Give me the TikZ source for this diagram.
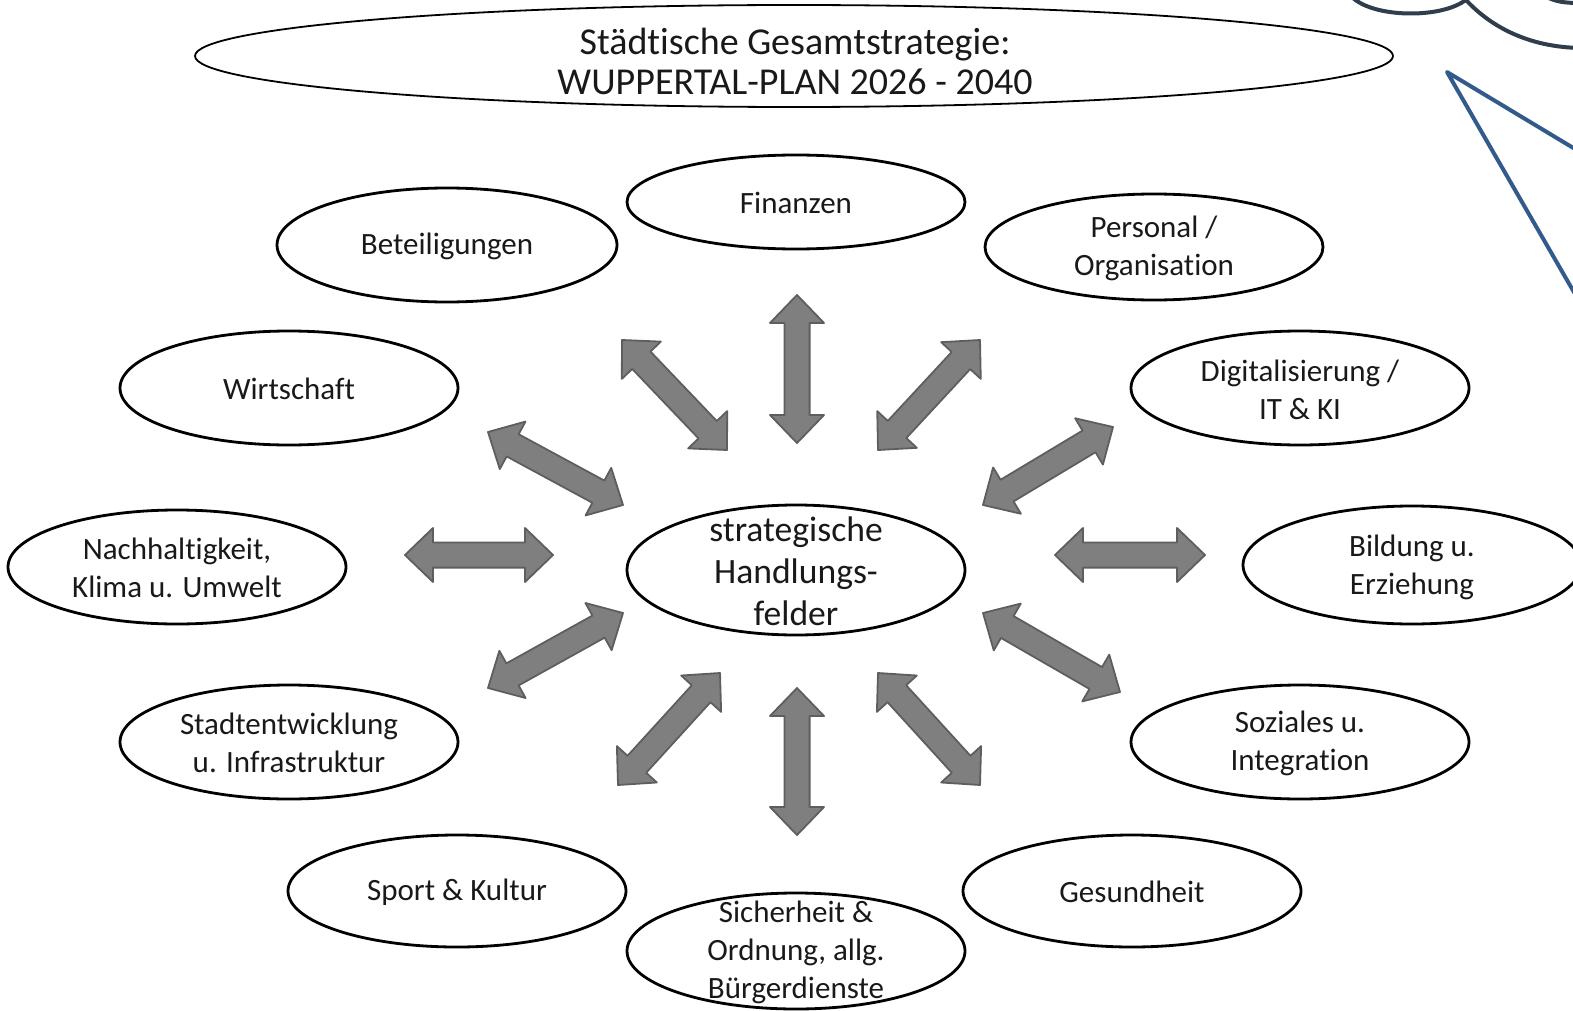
\documentclass[tikz,border=0pt]{standalone}
\usepackage{fontspec}
\setmainfont[Ligatures=NoCommon]{Carlito}
\usetikzlibrary{calc}

\definecolor{arrowgray}{HTML}{7F7F7F}
\definecolor{arrowedge}{HTML}{5E5E5E}
\definecolor{cloudline}{HTML}{2F3D4C}
\definecolor{callblue}{HTML}{325B8C}

\tikzset{
	oval/.style={black, line width=1.4pt},
	field/.style={align=center, text=black!90, font=\fontsize{15.5}{19}\selectfont},
	hub/.style={align=center, text=black!90, font=\fontsize{17.8}{21}\selectfont},
	harrow/.style={fill=arrowgray, draw=arrowedge, line width=0.9pt, line join=round}
}

% double block arrow between two named coordinates
\newcommand{\dblarrow}[2]{%
	\filldraw[harrow] (#1)
		-- ($(#1)!14pt!(#2)!13.5pt!90:(#2)$) -- ($(#1)!14pt!(#2)!6.3pt!90:(#2)$)
		-- ($(#2)!14pt!(#1)!6.3pt!-90:(#1)$) -- ($(#2)!14pt!(#1)!13.5pt!-90:(#1)$)
		-- (#2)
		-- ($(#2)!14pt!(#1)!13.5pt!90:(#1)$) -- ($(#2)!14pt!(#1)!6.3pt!90:(#1)$)
		-- ($(#1)!14pt!(#2)!6.3pt!-90:(#2)$) -- ($(#1)!14pt!(#2)!13.5pt!-90:(#2)$)
		-- cycle;}

\begin{document}
\begin{tikzpicture}[x=0.5pt,y=-0.5pt]
	\useasboundingbox (0,0) rectangle (1573,1011);
	\clip (0,0) rectangle (1573,1011);

	% cloud and callout, top right
	\draw[cloudline, line width=2pt] (1352,-3) .. controls (1374,19) and (1448,19) .. (1469,-3);
	\draw[cloudline, line width=2pt] (1466,0) .. controls (1492,28) and (1530,47) .. (1580,48);
	\draw[cloudline, line width=2pt] (1545,-4) .. controls (1555,2) and (1566,3) .. (1580,3);
	\draw[callblue, line width=2pt, line join=round] (1590,158) -- (1447,72) -- (1590,320);

	% overall strategy
	\draw[black, line width=0.9pt] (794,56) ellipse (599 and 51);
	\node[align=center, text=black!90, font=\fontsize{19}{20}\selectfont] (plan) at (795,61)
		{Städtische Gesamtstrategie:\\WUPPERTAL-PLAN 2026 - 2040};

	% fields of action
	\draw[oval] (796,570) ellipse (169 and 65);
	\node[hub] (mid) at (796,571) {strategische\\Handlungs-\\felder};

	\draw[oval] (796,202) ellipse (169 and 47);
	\node[field] (fin) at (796,203) {Finanzen};
	\draw[oval] (447,245) ellipse (170 and 57);
	\node[field] (bet) at (447,246) {Beteiligungen};
	\draw[oval] (1154,247) ellipse (169 and 53);
	\node[field] (pers) at (1154,248) {Personal /\\Organisation};
	\draw[oval] (289,388) ellipse (169 and 57);
	\node[field] (wirt) at (289,389) {Wirtschaft};
	\draw[oval] (1300,388) ellipse (169 and 57);
	\node[field] (digi) at (1300,390) {Digitalisierung /\\IT \& KI};
	\draw[oval] (177,567) ellipse (169 and 57);
	\node[field] (nach) at (177,568) {Nachhaltigkeit,\\Klima u. Umwelt};
	\draw[oval] (1412,565) ellipse (169 and 59);
	\node[field] (bild) at (1412,567) {Bildung u.\\Erziehung};
	\draw[oval] (289,742) ellipse (169 and 57);
	\node[field] (stadt) at (289,743) {Stadtentwicklung\\u. Infrastruktur};
	\draw[oval] (1300,742) ellipse (169 and 57);
	\node[field] (soz) at (1300,743) {Soziales u.\\Integration};
	\draw[oval] (457,891) ellipse (169 and 56);
	\node[field] (sport) at (457,892) {Sport \& Kultur};
	\draw[oval] (1132,891) ellipse (169 and 56);
	\node[field] (ges) at (1132,892) {Gesundheit};
	\draw[oval] (796,951) ellipse (169 and 58);
	\node[field] (sich) at (796,952) {Sicherheit \&\\Ordnung, allg.\\Bürgerdienste};

	% arrow ends
	\coordinate (a1) at (797,295);  \coordinate (b1) at (797,443);
	\coordinate (a2) at (622,340);  \coordinate (b2) at (727,450);
	\coordinate (a3) at (980,340);  \coordinate (b3) at (878,450);
	\coordinate (a4) at (488,432);  \coordinate (b4) at (623,505);
	\coordinate (a5) at (1113,427); \coordinate (b5) at (983,505);
	\coordinate (a6) at (405,555);  \coordinate (b6) at (553,555);
	\coordinate (a7) at (1055,555); \coordinate (b7) at (1205,555);
	\coordinate (a8) at (488,688);  \coordinate (b8) at (623,613);
	\coordinate (a9) at (1120,692); \coordinate (b9) at (983,613);
	\coordinate (a10) at (618,785); \coordinate (b10) at (720,673);
	\coordinate (a11) at (980,785); \coordinate (b11) at (878,673);
	\coordinate (a12) at (797,835); \coordinate (b12) at (797,688);

	\foreach \i in {1,...,12}
		{\dblarrow{a\i}{b\i}}
\end{tikzpicture}
\end{document}
